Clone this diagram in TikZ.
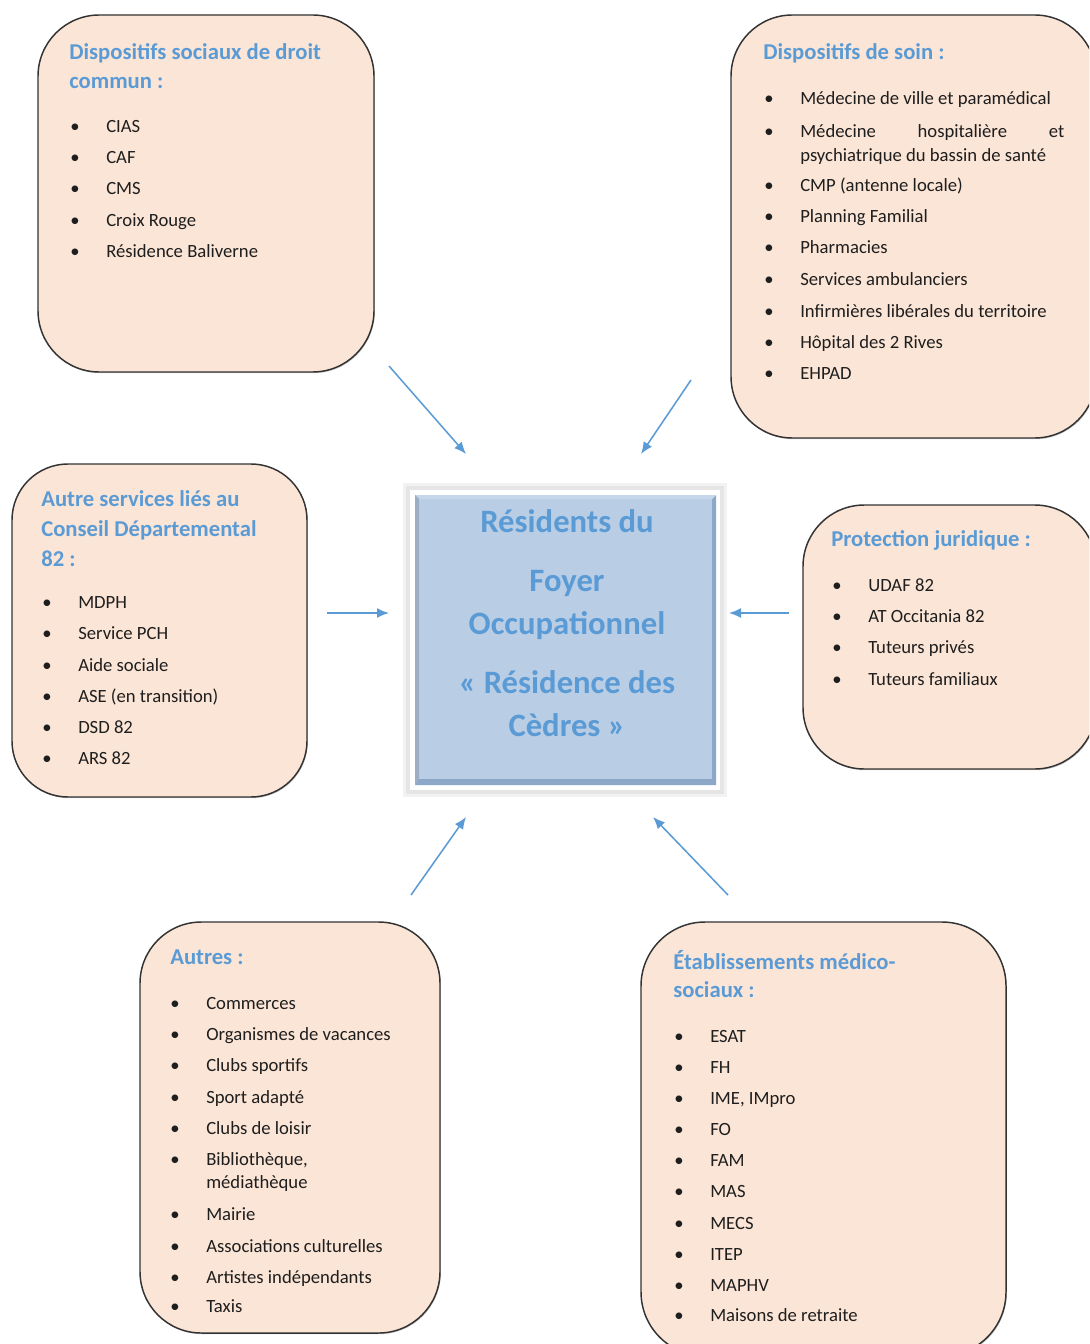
\documentclass[tikz,border=0pt]{standalone}
\usepackage{fontspec}
\setmainfont{Carlito}
\usetikzlibrary{fit,arrows.meta,shadows}
\definecolor{peach}{HTML}{FBE5D6}
\definecolor{headblue}{HTML}{5B9BD5}
\definecolor{corefill}{HTML}{B9CDE5}
\definecolor{coreedge}{HTML}{8DA7C8}
\definecolor{ink}{HTML}{1E1E1E}
\tikzset{
  x=0.75pt, y=-0.75pt,
  group/.style={draw=black!80, line width=1.1pt, fill=peach, rounded corners=46pt,
    inner sep=0pt,
    drop shadow={shadow xshift=0.6pt, shadow yshift=-0.9pt, opacity=0.35, fill=black!60}},
  head/.style={anchor=base west, inner sep=0pt, text=headblue,
    font=\fontsize{17}{21.5}\selectfont\bfseries},
  entry/.style={anchor=base west, inner sep=0pt, text=ink,
    font=\fontsize{14}{17.5}\selectfont},
  link/.style={draw=headblue, line width=1.15pt,
    -{Latex[length=9pt, width=7.5pt]}},
}
% a bullet followed by its text
\newcommand\bul[1]{\makebox[27pt][l]{\textbullet}#1}
\newcommand\bulx[1]{\makebox[27pt][l]{\textbullet}\begin{tabular}[t]{@{}l@{}}#1\end{tabular}}
\newcommand\hd[1]{\begin{tabular}[t]{@{}l@{}}#1\end{tabular}}
\begin{document}
\begin{tikzpicture}
\useasboundingbox (0,0) rectangle (1089,1344);
\clip (0,0) rectangle (1089,1344);
\fill[white] (0,0) rectangle (1089,1344);

% ---- surrounding groups
\node[group, fit={(38,15) (374,372)}] (social) {};
\node[group, fit={(731,15) (1096,438)}] (soin) {};
\node[group, rounded corners=42pt, fit={(12,464) (307,797)}] (cd) {};
\node[group, fit={(803,505) (1096,769)}] (jur) {};
\node[group, fit={(140,922) (440,1333)}] (autres) {};
\node[group, rounded corners=48pt, fit={(641,922) (1006,1356)}] (ems) {};

% ---- central box
\fill[black!5] (403,483) rectangle (727,797);
\fill[black!10] (406,486) rectangle (724,794);
\fill[white] (410,490) rectangle (720,790);
\node[fill=corefill, inner sep=0pt, fit={(415,495) (716,785)}] (core) {};
\fill[coreedge] (415,785) -- (716,785) -- (716,495) -- (712,499) -- (712,779) -- (419,779) -- cycle;
\fill[corefill!80!white] (415,495) -- (716,495) -- (712,499) -- (419,499) -- cycle;
\fill[corefill!85!black] (415,495) -- (419,499) -- (419,779) -- (415,785) -- cycle;
\node[anchor=base, inner sep=0pt, text=headblue,
      font=\fontsize{24.5}{32}\selectfont\bfseries] (coretxt) at (567,532)
  {\begin{tabular}[t]{@{}c@{}}Résidents du\\[12.5pt] Foyer\\ Occupationnel\\[12.5pt]
   « Résidence des\\ Cèdres »\end{tabular}};

% ---- Dispositifs sociaux de droit commun
\node[head] (socialh) at (69,60) {\hd{Dispositifs sociaux de droit\\commun :}};
\node[entry] (s1) at (70,133) {\bul{CIAS}};
\node[entry] (s2) at (70,164) {\bul{CAF}};
\node[entry] (s3) at (70,195) {\bul{CMS}};
\node[entry] (s4) at (70,227) {\bul{Croix Rouge}};
\node[entry] (s5) at (70,258) {\bul{Résidence Baliverne}};

% ---- Dispositifs de soin
\node[head] (soinh) at (763,60) {Dispositifs de soin :};
\node[entry] (d1) at (764,105) {\bul{Médecine de ville et paramédical}};
\node[entry] (d2) at (764,138) {\bulx{\makebox[198pt][s]{Médecine hospitalière et}\\psychiatrique du bassin de santé}};
\node[entry] (d3) at (764,192) {\bul{CMP (antenne locale)}};
\node[entry] (d4) at (764,223) {\bul{Planning Familial}};
\node[entry] (d5) at (764,254) {\bul{Pharmacies}};
\node[entry] (d6) at (764,286) {\bul{Services ambulanciers}};
\node[entry] (d7) at (764,317) {\bul{Infirmières libérales du territoire}};
\node[entry] (d8) at (764,348) {\bul{Hôpital des 2 Rives}};
\node[entry] (d9) at (764,379) {\bul{EHPAD}};

% ---- Conseil Départemental
\node[head] (cdh) at (41,506) {\fontsize{17}{22.5}\selectfont\hd{Autre services liés au\\Conseil Départemental\\82 :}};
\node[entry] (c1) at (42,608) {\bul{MDPH}};
\node[entry] (c2) at (42,639) {\bul{Service PCH}};
\node[entry] (c3) at (42,671) {\bul{Aide sociale}};
\node[entry] (c4) at (42,702) {\bul{ASE (en transition)}};
\node[entry] (c5) at (42,733) {\bul{DSD 82}};
\node[entry] (c6) at (42,764) {\bul{ARS 82}};

% ---- Protection juridique
\node[head] (jurh) at (831,546) {Protection juridique :};
\node[entry] (j1) at (832,591) {\bul{UDAF 82}};
\node[entry] (j2) at (832,622) {\bul{AT Occitania 82}};
\node[entry] (j3) at (832,653) {\bul{Tuteurs privés}};
\node[entry] (j4) at (832,685) {\bul{Tuteurs familiaux}};

% ---- Autres
\node[head] (autresh) at (170,964) {Autres :};
\node[entry] (a1) at (170,1009) {\bul{Commerces}};
\node[entry] (a2) at (170,1040) {\bul{Organismes de vacances}};
\node[entry] (a3) at (170,1071) {\bul{Clubs sportifs}};
\node[entry] (a4) at (170,1103) {\bul{Sport adapté}};
\node[entry] (a5) at (170,1134) {\bul{Clubs de loisir}};
\node[entry] (a6) at (170,1165) {\bulx{Bibliothèque,\\médiathèque}};
\node[entry] (a7) at (170,1220) {\bul{Mairie}};
\node[entry] (a8) at (170,1252) {\bul{Associations culturelles}};
\node[entry] (a9) at (170,1283) {\bul{Artistes indépendants}};
\node[entry] (a10) at (170,1312) {\bul{Taxis}};

% ---- Établissements médico-sociaux
\node[head] (emsh) at (673,969) {\hd{Établissements médico-\\sociaux :}};
\node[entry] (e1) at (674,1042) {\bul{ESAT}};
\node[entry] (e2) at (674,1073) {\bul{FH}};
\node[entry] (e3) at (674,1104) {\bul{IME, IMpro}};
\node[entry] (e4) at (674,1135) {\bul{FO}};
\node[entry] (e5) at (674,1166) {\bul{FAM}};
\node[entry] (e6) at (674,1197) {\bul{MAS}};
\node[entry] (e7) at (674,1229) {\bul{MECS}};
\node[entry] (e8) at (674,1260) {\bul{ITEP}};
\node[entry] (e9) at (674,1291) {\bul{MAPHV}};
\node[entry] (e10) at (674,1321) {\bul{Maisons de retraite}};

% ---- arrows pointing at the residents
\coordinate (p1s) at (389,366); \coordinate (p1e) at (466,454);
\coordinate (p2s) at (691,380); \coordinate (p2e) at (641,454);
\coordinate (p3s) at (327,613); \coordinate (p3e) at (389,613);
\coordinate (p4s) at (789,613); \coordinate (p4e) at (729,613);
\coordinate (p5s) at (411,895); \coordinate (p5e) at (466,817);
\coordinate (p6s) at (728,895); \coordinate (p6e) at (653,817);
\draw[link] (p1s) -- (p1e);
\draw[link] (p2s) -- (p2e);
\draw[link] (p3s) -- (p3e);
\draw[link] (p4s) -- (p4e);
\draw[link] (p5s) -- (p5e);
\draw[link] (p6s) -- (p6e);
\end{tikzpicture}
\end{document}
